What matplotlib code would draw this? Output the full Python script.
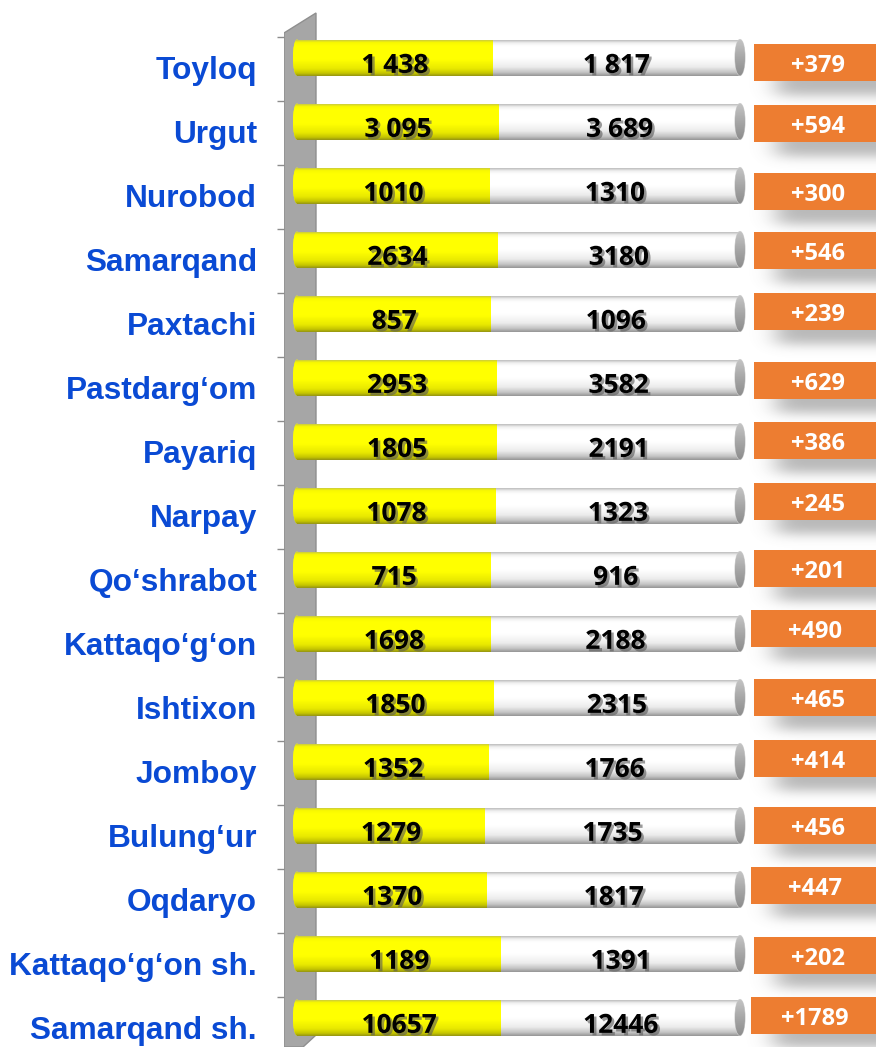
import math
import numpy as np
import matplotlib
matplotlib.use("Agg")
import matplotlib.pyplot as plt
import matplotlib.patheffects as pe
from matplotlib.patches import Ellipse, Rectangle, Polygon
from matplotlib import font_manager as fm

# ---------------- data ----------------
regions = ["Toyloq", "Urgut", "Nurobod", "Samarqand", "Paxtachi", "Pastdarg‘om",
           "Payariq", "Narpay", "Qo‘shrabot", "Kattaqo‘g‘on", "Ishtixon", "Jomboy",
           "Bulung‘ur", "Oqdaryo", "Kattaqo‘g‘on sh.", "Samarqand sh."]
values_prev = [1438, 3095, 1010, 2634, 857, 2953, 1805, 1078, 715, 1698, 1850, 1352,
               1279, 1370, 1189, 10657]
values_curr = [1817, 3689, 1310, 3180, 1096, 3582, 2191, 1323, 916, 2188, 2315, 1766,
               1735, 1817, 1391, 12446]
spaced_rows = [0, 1]   # rows whose numbers are written with a thousands space

# pick a bold sans for the numbers
num_family = "DejaVu Sans"
for fam in ["Open Sans", "Lato", "Roboto", "Noto Sans"]:
    try:
        p = fm.findfont(fm.FontProperties(family=fam, weight="bold"), fallback_to_default=False)
        if "bold" in p.lower():
            num_family = fam
            break
    except Exception:
        pass

# ---------------- layout helpers (pixel -> data) ----------------
W, H = 876, 1047
X0, XSCALE = 297.0, 443.0     # bar start px, px per unit (100 %)
Y0, YSCALE = 57.5, 64.0       # first row centre px, px per row


def dx(px):
    return (px - X0) / XSCALE


def dy(py):
    return (py - Y0) / YSCALE


# orange badge vertical offsets (px) and left edges (px) - layout only
badge_off = [5, 2, 6, 1, -2, 3, -1, -4, -1, -5, 0, -3, 0, -4, 2, -2]
badge_left = [754, 754, 754, 754, 754, 754, 754, 754, 754, 751, 754, 754, 754, 751, 754, 751]

fig = plt.figure(figsize=(W / 100, H / 100), dpi=100)
ax = fig.add_axes([284 / W, 0, (W - 284) / W, 1])
ax.set_xlim(dx(284), dx(W))
ax.set_ylim(dy(H), dy(0))
for s in ax.spines.values():
    s.set_visible(False)
ax.set_xticks([])

n = len(regions)
rows = np.arange(n)
tot = np.array(values_prev) + np.array(values_curr)
frac_prev = np.array(values_prev) / tot
frac_curr = np.array(values_curr) / tot
bar_h = 36 / YSCALE

# tick marks on the wall's left edge
ax.set_yticks(rows - 0.32)
ax.set_yticklabels([])
ax.tick_params(axis="y", length=5, width=1, color="#8c8c8c", direction="out")

# ---------------- grey wall ----------------
wall = Polygon([(dx(284), dy(33)), (dx(316), dy(13)), (dx(316), dy(1035)),
                (dx(303), dy(1047)), (dx(284), dy(1047))], closed=True,
               facecolor="#a6a6a6", edgecolor="#8f8f8f", lw=1, zorder=1)
ax.add_patch(wall)


def gradient(stops, npts=80):
    pos = np.array([s[0] for s in stops])
    cols = np.array([s[1] for s in stops], dtype=float) / 255.0
    t = np.linspace(0, 1, npts)
    g = np.stack([np.interp(t, pos, cols[:, c]) for c in range(3)], axis=1)
    return g[:, None, :]


yellow_g = gradient([(0.0, (205, 205, 60)), (0.06, (248, 248, 0)), (0.15, (255, 255, 0)),
                     (0.55, (255, 255, 0)), (0.8, (232, 232, 0)), (0.93, (195, 195, 0)),
                     (1.0, (150, 150, 20))])
white_g = gradient([(0.0, (190, 190, 190)), (0.07, (238, 238, 238)), (0.16, (255, 255, 255)),
                    (0.5, (255, 255, 255)), (0.75, (236, 236, 236)), (0.9, (196, 196, 196)),
                    (1.0, (150, 150, 150))])
cap_g = gradient([(0.0, (195, 195, 195)), (0.5, (166, 166, 166)), (1.0, (140, 140, 140))])


def shade(patch, g, z):
    bb = patch.get_extents().transformed(ax.transData.inverted())
    x0, x1 = bb.x0, bb.x1
    ya, yb = sorted([bb.y0, bb.y1])
    im = ax.imshow(g, extent=(x0, x1, yb, ya), origin="upper", aspect="auto",
                   interpolation="bilinear", zorder=z)
    im.set_clip_path(patch)


# ---------------- bars ----------------
bars_prev = ax.barh(rows, frac_prev, left=0, height=bar_h, color="#ffff00", zorder=2)
bars_curr = ax.barh(rows, frac_curr, left=frac_prev, height=bar_h, color="white", zorder=2)

rx_l = 4 / XSCALE
rx_r = 5 / XSCALE
for i in range(n):
    lc = Ellipse((0, rows[i]), 2 * rx_l, bar_h, facecolor="#ffff00", edgecolor="none", zorder=1.9)
    ax.add_patch(lc)
    shade(lc, yellow_g, 1.95)
    shade(bars_prev[i], yellow_g, 2.05)
    shade(bars_curr[i], white_g, 2.05)
    rc = Ellipse((1, rows[i]), 2 * rx_r, bar_h, facecolor="#a6a6a6", edgecolor="#d0d0d0",
                 lw=0.8, zorder=2.3)
    ax.add_patch(rc)
    shade(rc, cap_g, 2.35)

shadow_fx = [pe.withSimplePatchShadow(offset=(1.8, -1.8), shadow_rgbFace=(0.35, 0.35, 0.35), alpha=0.6)]


def fmt(v, i):
    return f"{v:,}".replace(",", " ") if i in spaced_rows else str(v)


for i in range(n):
    ax.text(frac_prev[i] / 2, rows[i] + 0.24, fmt(values_prev[i], i), ha="center", va="baseline",
            fontsize=19, fontweight="bold", family=[num_family, "DejaVu Sans"], color="black",
            zorder=4, path_effects=shadow_fx)
    ax.text((frac_prev[i] + 1) / 2, rows[i] + 0.24, fmt(values_curr[i], i), ha="center",
            va="baseline", fontsize=19, fontweight="bold", family=[num_family, "DejaVu Sans"],
            color="black", zorder=4, path_effects=shadow_fx)
    ax.text(dx(257), rows[i] + 0.33, regions[i], ha="right", va="baseline", fontsize=22.8,
            fontweight="bold", family=["Liberation Sans", "DejaVu Sans"], color="#0a4ad4",
            zorder=4)

# ---------------- badge shadows ----------------
erf = np.vectorize(math.erf)
xs = np.arange(740, W + 1, 1.0)
ys = np.arange(0, H + 1, 1.0)
alpha = np.zeros((len(ys), len(xs)))
for i in range(n):
    top = Y0 + YSCALE * i + badge_off[i] - 18.5
    a, b = badge_left[i] + 22, 960
    bx = 0.5 * (erf((xs - a) / 16) - erf((xs - b) / 16))
    ta, tb = top + 14, top + 37 + 14
    by = 0.5 * (erf((ys - ta) / 8) - erf((ys - tb) / 8))
    alpha += np.outer(by, bx)
alpha = np.clip(alpha, 0, 1) * 0.5
rgba = np.zeros((len(ys), len(xs), 4))
rgba[..., :3] = 0.45
rgba[..., 3] = alpha
ax.imshow(rgba, extent=(dx(740), dx(W), dy(H), dy(0)), origin="upper", aspect="auto",
          interpolation="bilinear", zorder=1.5)

# ---------------- badges ----------------
diffs = np.array(values_curr) - np.array(values_prev)
for i in range(n):
    top = Y0 + YSCALE * i + badge_off[i] - 18.5
    r = Rectangle((dx(badge_left[i]), dy(top)), dx(W + 5) - dx(badge_left[i]), 37 / YSCALE,
                  facecolor="#ed7d31", edgecolor="none", zorder=3)
    ax.add_patch(r)
    ax.text(dx(badge_left[i] + 64), dy(top + 28), f"+{diffs[i]}", ha="center", va="baseline",
            fontsize=17, fontweight="bold", family=[num_family, "DejaVu Sans"], color="white",
            zorder=4)

ax.set_xlim(dx(284), dx(W))
ax.set_ylim(dy(H), dy(0))
fig.savefig("out.png", dpi=100)
